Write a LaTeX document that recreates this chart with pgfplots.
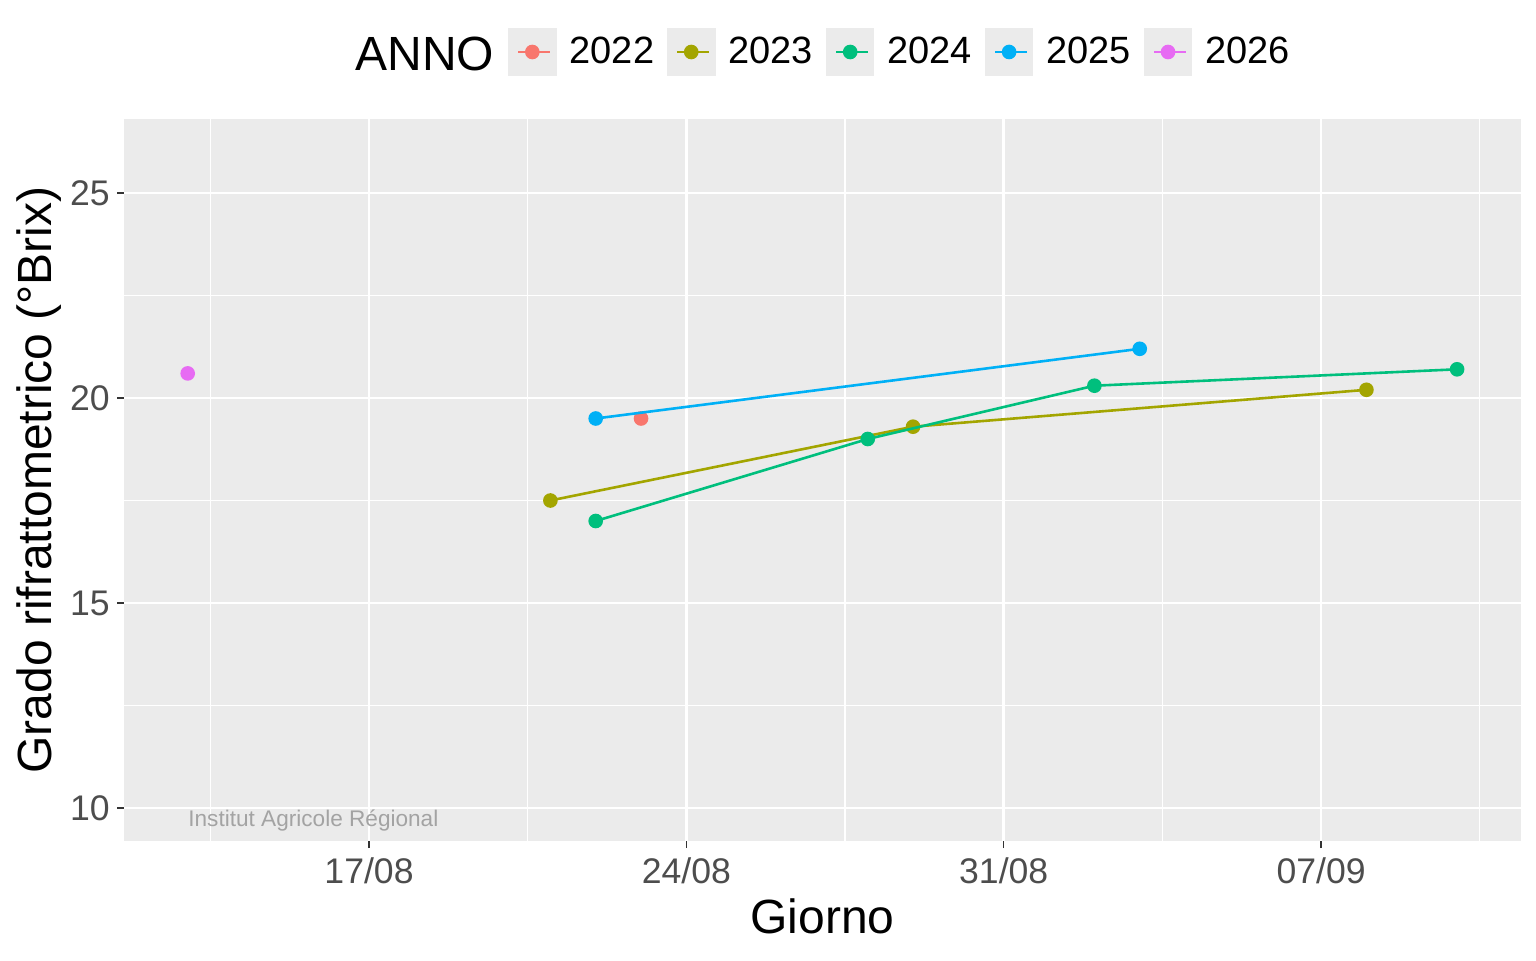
\documentclass[border=0pt]{standalone}
\usepackage{fontspec}
\setmainfont{Liberation Sans}
\usepackage{pgfplots}
\pgfplotsset{compat=1.18}
\definecolor{c2022}{HTML}{F8766D}
\definecolor{c2023}{HTML}{A3A500}
\definecolor{c2024}{HTML}{00BF7D}
\definecolor{c2025}{HTML}{00B0F6}
\definecolor{c2026}{HTML}{E76BF3}
\definecolor{panel}{HTML}{EBEBEB}
\definecolor{keybg}{HTML}{EBEBEB}
\definecolor{tickcol}{HTML}{333333}
\definecolor{labcol}{HTML}{4D4D4D}
\definecolor{wm}{HTML}{A3A3A3}
\begin{document}
\begin{tikzpicture}
\useasboundingbox (0,0) rectangle (768pt,480pt);
\begin{axis}[
  at={(62pt,59.5pt)}, anchor=south west,
  scale only axis, width=698.5pt, height=361pt,
  xmin=11.595, xmax=42.41, ymin=9.195, ymax=26.805,
  clip mode=individual,
  axis background/.style={fill=panel},
  axis line style={draw=none},
  xtick={17,24,31,38}, xticklabels={17/08,24/08,31/08,07/09},
  ytick={10,15,20,25},
  minor xtick={13.5,20.5,27.5,34.5,41.5},
  minor ytick={12.5,17.5,22.5},
  grid=both,
  major grid style={white, line width=1.35pt},
  minor grid style={white, line width=0.7pt},
  tick align=outside, xtick pos=bottom, ytick pos=left,
  major tick length=3.5pt, minor tick length=0pt,
  tick style={tickcol, line width=0.65pt},
  /pgf/number format/assume math mode=true,
  xticklabel style={font=\fontsize{17.8pt}{20pt}\selectfont, text=labcol, inner sep=0pt, anchor=north, yshift=-4.85pt},
  yticklabel style={font=\fontsize{17.8pt}{20pt}\selectfont, text=labcol, inner sep=0pt, anchor=east, xshift=-3.5pt},
  xlabel={Giorno}, ylabel={Grado rifrattometrico (°Brix)},
  every axis x label/.style={at={(axis description cs:0.5,-0.12742)}, anchor=base, inner sep=0pt, font=\fontsize{24pt}{28pt}\selectfont},
  every axis y label/.style={at={(axis description cs:-0.05154,0.5)}, rotate=90, anchor=base, inner sep=0pt, font=\fontsize{24pt}{28pt}\selectfont},
  legend columns=-1,
  legend style={at={(axis description cs:0.27488,1.0928)}, anchor=west, draw=none, fill=none, inner sep=0pt, outer sep=0pt,
    nodes={inner sep=0pt, font=\fontsize{19pt}{22pt}\selectfont},
    /tikz/every odd column/.append style={column sep=6.5pt},
    /tikz/every even column/.append style={column sep=6.4pt}},
  legend image code/.code={
    \fill[keybg] (0pt,-11.5pt) rectangle (23pt,11.5pt);
    \draw[#1] (4.5pt,0pt) -- (20.5pt,0pt);
    \draw[#1] plot coordinates {(11.5pt,0pt)};
  },
  every axis plot/.append style={line width=1.3pt, mark=*, mark size=3pt, mark options={draw=none}},
]
\addplot[c2022, mark options={fill=c2022}] coordinates {(23,19.5)};
\addlegendentry{2022}
\addplot[c2023, mark options={fill=c2023}] coordinates {(21,17.5) (29,19.3) (39,20.2)};
\addlegendentry{2023}
\addplot[c2024, mark options={fill=c2024}] coordinates {(22,17.0) (28,19.0) (33,20.3) (41,20.7)};
\addlegendentry{2024}
\addplot[c2025, mark options={fill=c2025}] coordinates {(22,19.5) (34,21.2)};
\addlegendentry{2025}
\addplot[c2026, mark options={fill=c2026}] coordinates {(13,20.6)};
\addlegendentry{2026}
\node[anchor=base west, inner sep=0pt, text=wm, font=\fontsize{11.3pt}{13pt}\selectfont] at (axis description cs:0.04581,0.02078) {Institut Agricole Régional};
\node[anchor=base west, inner sep=0pt, font=\fontsize{24pt}{28pt}\selectfont] at (axis description cs:0.16535,1.0669) {ANNO};
\end{axis}
\end{tikzpicture}
\end{document}
